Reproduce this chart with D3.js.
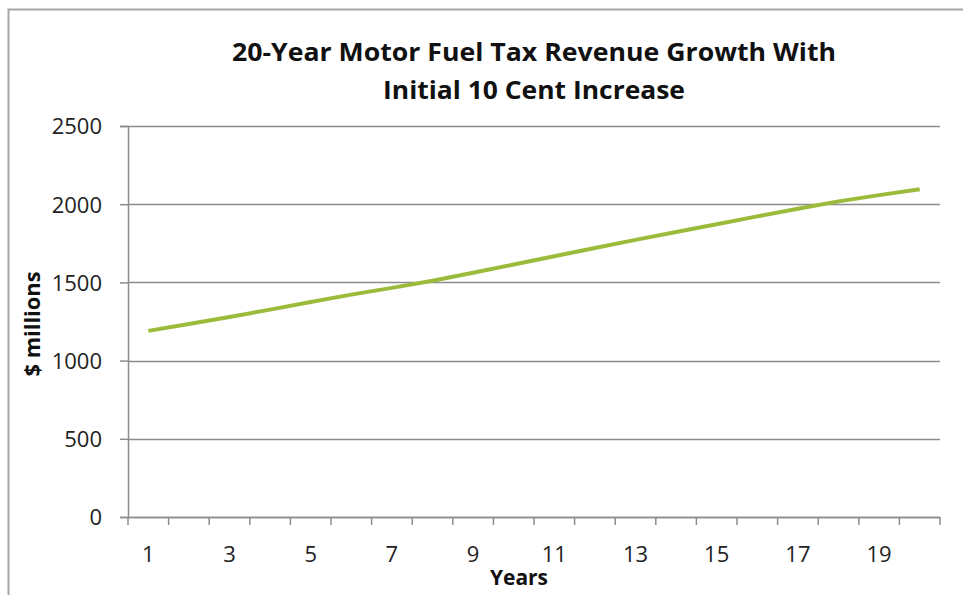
<!DOCTYPE html>
<html>
<head>
<meta charset="utf-8">
<script src="https://cdn.jsdelivr.net/npm/d3@7"></script>
<style>
  body { margin: 0; background: #fff; }
  text { font-family: "Open Sans", "DejaVu Sans", sans-serif; }
</style>
</head>
<body>
<div id="chart"></div>
<script>
// data
var years = [1,2,3,4,5,6,7,8,9,10,11,12,13,14,15,16,17,18,19,20];
var revenue = [1190,1234,1279,1326,1375,1422,1465,1510,1562,1614,1667,1720,1772,1822,1872,1922,1971,2018,2058,2096];
var yTicks = [0,500,1000,1500,2000,2500];
var xLabels = [1,3,5,7,9,11,13,15,17,19];

var svgWidth = 963;
var svgHeight = 595;

var margin = { top: 126, right: 23, bottom: 78, left: 128 };
var width = svgWidth - margin.left - margin.right;
var height = svgHeight - margin.top - margin.bottom;

var svg = d3.select("#chart")
  .append("svg")
  .attr("width", svgWidth)
  .attr("height", svgHeight);

// outer frame of the chart
svg.append("rect")
  .attr("x", 8.5).attr("y", 9.5)
  .attr("width", 970).attr("height", 600)
  .attr("fill", "#fff")
  .attr("stroke", "#a6a6a6")
  .attr("stroke-width", 2);

var chartGroup = svg.append("g")
  .attr("transform", `translate(${margin.left},${margin.top})`);

var xScale = d3.scaleBand()
  .domain(years)
  .range([0, width]);

var yScale = d3.scaleLinear()
  .domain([0, 2500])
  .range([height, 0]);

// gridlines
chartGroup.selectAll(".grid")
  .data(yTicks)
  .enter()
  .append("line")
  .attr("x1", 0)
  .attr("x2", width)
  .attr("y1", d => Math.round(yScale(d)) + 0.5)
  .attr("y2", d => Math.round(yScale(d)) + 0.5)
  .attr("stroke", "#8c8c8c")
  .attr("stroke-width", 1.5);

// y axis
var leftAxis = d3.axisLeft(yScale)
  .tickValues(yTicks)
  .tickFormat(d3.format("d"))
  .tickSize(8)
  .tickPadding(18);
var yAxis = chartGroup.append("g").call(leftAxis);
yAxis.select(".domain").attr("stroke", "#8c8c8c").attr("stroke-width", 1.5);
yAxis.selectAll(".tick line").attr("stroke", "#8c8c8c").attr("stroke-width", 1.5);
yAxis.selectAll(".tick text")
  .attr("font-size", "22px")
  .attr("font-family", "Open Sans")
  .attr("fill", "#222")
  .attr("dy", "0.36em");

// x axis: ticks on the category boundaries, labels on odd years
var boundaries = years.map(d => xScale(d)).concat([width]);
var xAxis = chartGroup.append("g").attr("transform", `translate(0,${height})`);
xAxis.append("line")
  .attr("x1", 0).attr("x2", width)
  .attr("y1", 0.5).attr("y2", 0.5)
  .attr("stroke", "#8c8c8c").attr("stroke-width", 1.5);
xAxis.selectAll(".xtick")
  .data(boundaries)
  .enter()
  .append("line")
  .attr("x1", d => d).attr("x2", d => d)
  .attr("y1", 0).attr("y2", 8)
  .attr("stroke", "#8c8c8c").attr("stroke-width", 1.5);
xAxis.selectAll(".xlabel")
  .data(xLabels)
  .enter()
  .append("text")
  .attr("x", d => xScale(d) + xScale.bandwidth() / 2)
  .attr("y", 45)
  .attr("text-anchor", "middle")
  .attr("font-size", "22px")
  .attr("fill", "#222")
  .text(d => d);

// the series
var line = d3.line()
  .x((d, i) => xScale(years[i]) + xScale.bandwidth() / 2)
  .y(d => yScale(d));

chartGroup.append("path")
  .datum(revenue)
  .attr("d", line)
  .attr("fill", "none")
  .attr("stroke", "#9bbb3b")
  .attr("stroke-width", 4);

// titles
svg.append("text")
  .attr("x", 534).attr("y", 61)
  .attr("text-anchor", "middle")
  .attr("font-size", "25px")
  .attr("font-weight", "bold")
  .attr("fill", "#111")
  .attr("textLength", 604)
  .attr("lengthAdjust", "spacingAndGlyphs")
  .text("20-Year Motor Fuel Tax Revenue Growth With");

svg.append("text")
  .attr("x", 534).attr("y", 99)
  .attr("text-anchor", "middle")
  .attr("font-size", "25px")
  .attr("font-weight", "bold")
  .attr("fill", "#111")
  .attr("textLength", 302)
  .attr("lengthAdjust", "spacingAndGlyphs")
  .text("Initial 10 Cent Increase");

svg.append("text")
  .attr("transform", "translate(40,324) rotate(-90)")
  .attr("text-anchor", "middle")
  .attr("font-size", "21px")
  .attr("font-weight", "bold")
  .attr("fill", "#111")
  .attr("textLength", 105)
  .attr("lengthAdjust", "spacingAndGlyphs")
  .text("$ millions");

svg.append("text")
  .attr("x", 519).attr("y", 585)
  .attr("text-anchor", "middle")
  .attr("font-size", "21px")
  .attr("font-weight", "bold")
  .attr("fill", "#111")
  .attr("textLength", 58)
  .attr("lengthAdjust", "spacingAndGlyphs")
  .text("Years");
</script>
</body>
</html>
